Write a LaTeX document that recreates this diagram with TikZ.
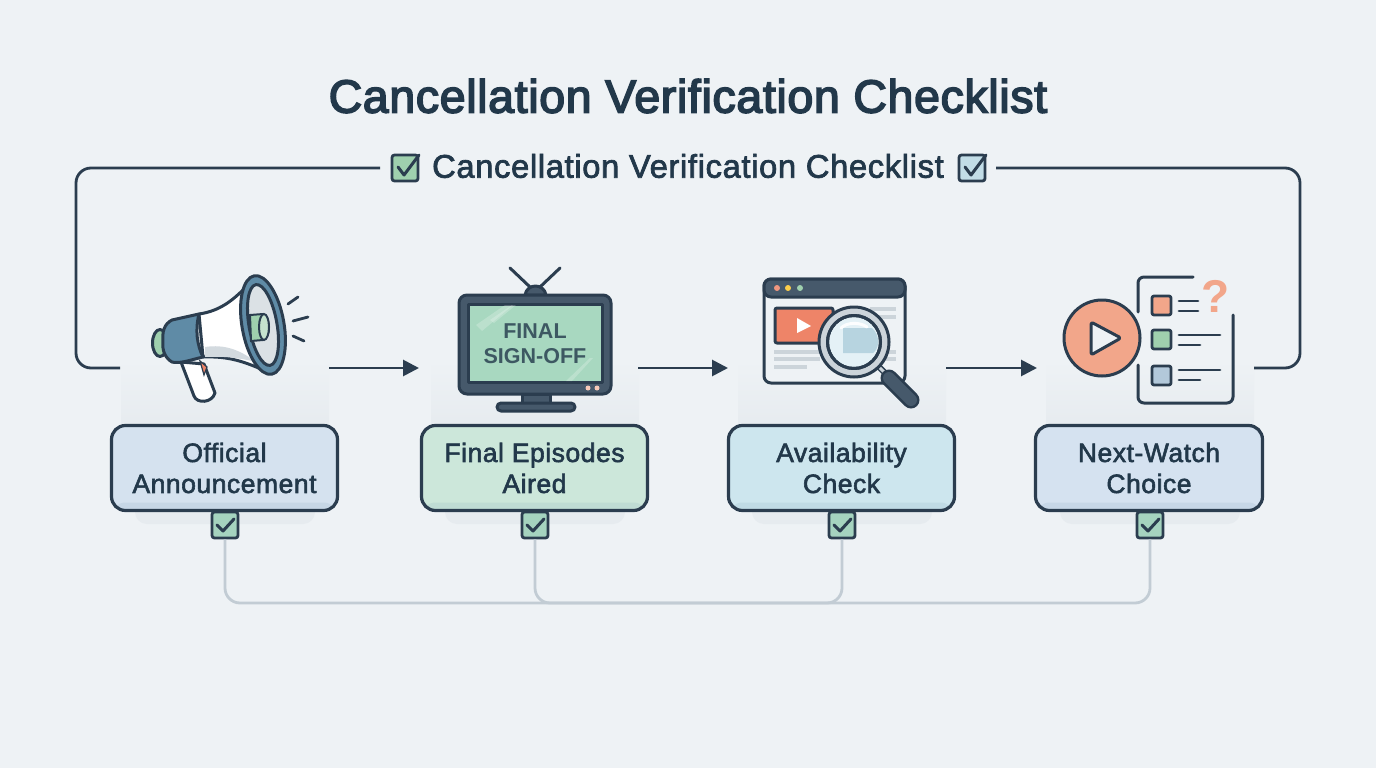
\documentclass[tikz,border=0pt]{standalone}
\usepackage{fontspec}
\usetikzlibrary{arrows.meta,shapes.geometric,calc}
\setmainfont{Liberation Sans}
\newfontfamily\medfont[FakeBold=2.2,LetterSpace=2]{Liberation Sans}
\newfontfamily\headfont[FakeBold=3.4,LetterSpace=1.4]{Liberation Sans}
\newfontfamily\boldfont{Liberation Sans Bold}
\definecolor{ink}{HTML}{2B3D4F}
\definecolor{textink}{HTML}{22384A}
\definecolor{page}{HTML}{EEF2F5}
\definecolor{halo}{HTML}{E6EBEF}
\definecolor{bus}{HTML}{C2CCD4}
\definecolor{steel}{HTML}{5F8BA6}
\definecolor{mint}{HTML}{A5D3BF}
\definecolor{screen}{HTML}{A8D8C0}
\definecolor{leaf}{HTML}{9FD0AE}
\definecolor{coral}{HTML}{EE8468}
\definecolor{peach}{HTML}{F2A68A}
\definecolor{slate}{HTML}{46596B}
\definecolor{rule}{HTML}{CCD4DA}
\definecolor{fillA}{HTML}{D5E2EF}
\definecolor{fillB}{HTML}{CCE7DA}
\definecolor{fillC}{HTML}{CDE6EE}
\definecolor{fillD}{HTML}{D5E2F0}
\tikzset{
  stagebox/.style={draw=ink,line width=3.2pt,rounded corners=14pt,minimum width=226pt,minimum height=85pt,
    align=center,text=textink,font=\medfont\fontsize{26.5}{31}\selectfont,inner sep=0pt,
    path picture={\fill[#1!88!steel] ([yshift=8pt]path picture bounding box.south west) rectangle (path picture bounding box.south east);}},
  tick/.style={draw=ink,line width=2.8pt,rounded corners=2.5pt,fill=mint,minimum width=26pt,minimum height=26pt,inner sep=0pt},
  tickline/.style={draw=ink,line width=3pt,line cap=round,line join=round},
  flow/.style={draw=ink,line width=2.8pt,-{Triangle[length=16pt,width=16pt]}},
  frameline/.style={draw=ink,line width=2.8pt,rounded corners=15pt},
  busline/.style={draw=bus,line width=2.8pt,rounded corners=15pt},
  icon/.style={draw=ink,line width=3pt,line join=round,line cap=round},
  thin/.style={draw=ink,line width=2.8pt,line cap=round},
  gray/.style={draw=rule,line width=3.5pt},
}
\begin{document}
\begin{tikzpicture}[x=1pt,y=-1pt]
\useasboundingbox (0,0) rectangle (1376,768);
\fill[page] (0,0) rectangle (1376,768);

% soft panels behind each stage
\foreach \cx in {225,535,842,1150}{
  \shade[top color=page,bottom color=halo] (\cx-104,360) rectangle (\cx+104,430);
  \fill[halo,rounded corners=12pt] (\cx-90,490) rectangle (\cx+90,524);
}

% titles
\node[text=textink,font=\headfont\fontsize{46.5}{50}\selectfont] (title) at (688,96) {Cancellation Verification Checklist};
\node[text=textink,font=\medfont\fontsize{32.7}{36}\selectfont] (subtitle) at (688,166) {Cancellation Verification Checklist};

% check boxes beside the subtitle
\node[tick,fill=leaf] (headL) at (405,168) {};
\draw[tickline] (398,167) -- (404,175) -- (419,155);
\node[tick,fill=fillC!90!steel] (headR) at (972,168) {};
\draw[tickline] (965,167) -- (971,175) -- (986,155);

% outer frame
\coordinate (frameLin) at (120,368);
\coordinate (frameLa) at (76,368);
\coordinate (frameLb) at (76,168);
\coordinate (frameLout) at (380,168);
\coordinate (frameRin) at (996,168);
\coordinate (frameRa) at (1300,168);
\coordinate (frameRb) at (1300,368);
\coordinate (frameRout) at (1254,368);
\draw[frameline] (frameLin) -- (frameLa) -- (frameLb) -- (frameLout);
\draw[frameline] (frameRin) -- (frameRa) -- (frameRb) -- (frameRout);

% check tabs and stage boxes
\node[tick] (c1) at (225,525) {};
\node[tick] (c2) at (535,525) {};
\node[tick] (c3) at (842,525) {};
\node[tick] (c4) at (1150,525) {};
\foreach \cx in {225,535,842,1150}{
  \draw[tickline] (\cx-8,525) -- (\cx-2,531) -- (\cx+9,519);
}
\node[stagebox=fillA,fill=fillA] (s1) at (224.5,468) {Official\\Announcement};
\node[stagebox=fillB,fill=fillB] (s2) at (534.5,468) {Final Episodes\\Aired};
\node[stagebox=fillC,fill=fillC] (s3) at (841.5,468) {Availability\\Check};
\node[stagebox=fillD,fill=fillD,minimum width=227pt] (s4) at (1149,468) {Next-Watch\\Choice};

% lower collector
\coordinate (b1) at (225,603);
\coordinate (b2) at (535,603);
\coordinate (b3) at (842,603);
\coordinate (b4) at (1150,603);
\draw[busline] (c1.south) -- (b1) -- (b4) -- (c4.south);
\draw[busline] (c2.south) -- (b2) -- (b3) -- (c3.south);

% flow arrows
\coordinate (o1) at (329,368); \coordinate (i2) at (419,368);
\coordinate (o2) at (638,368); \coordinate (i3) at (728,368);
\coordinate (o3) at (946,368); \coordinate (i4) at (1037,368);
\draw[flow] (o1) -- (i2);
\draw[flow] (o2) -- (i3);
\draw[flow] (o3) -- (i4);

% megaphone
\draw[icon,fill=white] (181,362) -- (194,396) .. controls (197,404) and (212,403) .. (215,393) -- (204,364) -- cycle;
\fill[coral,draw=ink,line width=1.2pt] (200,361) -- (207,367) -- (204,375) -- cycle;
\draw[icon,fill=leaf] (160,343) ellipse [x radius=7.5pt,y radius=13.5pt];
\draw[icon,fill=white] (199,314) .. controls (220,311) and (233,300) .. (245,288) -- (268,372)
  .. controls (245,362) and (230,356) .. (203,357) -- cycle;
\fill[halo!90!ink] (205,347) .. controls (225,344) and (240,350) .. (256,362) .. controls (240,358) and (225,356) .. (205,357) -- cycle;
\draw[icon,fill=steel] (172,320) -- (199,314) .. controls (195,330) and (197,345) .. (203,357)
  .. controls (190,360) and (180,364) .. (172,362) .. controls (165,358) and (162,350) .. (163,342)
  .. controls (162,332) and (164,324) .. (172,320) -- cycle;
\draw[icon,fill=steel] (263,325) [rotate around={10:(263,325)}] ellipse [x radius=21pt,y radius=50pt];
\draw[icon,fill=rule!70!white] (263,325) [rotate around={10:(263,325)}] ellipse [x radius=14pt,y radius=41pt];
\draw[draw=ink,line width=2pt,fill=leaf] (250,315) -- (263,314) .. controls (270,318) and (272,336) .. (263,340) -- (251,341) -- cycle;
\draw[draw=ink,line width=2pt,fill=leaf!60!white] (264,327) ellipse [x radius=5pt,y radius=13pt];
\draw[thin] (288,304) -- (298,297);
\draw[thin] (293,321) -- (308,317);
\draw[thin] (293,336) -- (304,341);

% television
\draw[thin,line width=3pt] (510,268) -- (530,287);
\draw[thin,line width=3pt] (560,268) -- (540,287);
\draw[icon,fill=slate] (525,295) .. controls (527,283) and (544,283) .. (546,295) -- cycle;
\draw[icon,fill=slate] (522,394) rectangle (550,404);
\draw[icon,fill=slate,rounded corners=4pt] (497,403) rectangle (575,411);
\draw[icon,fill=slate,rounded corners=8pt] (459,295) rectangle (611,394);
\draw[icon,fill=screen] (468,304) rectangle (602,382);
\fill[white,opacity=.22] (476,325) -- (505,305) -- (513,305) -- (482,331) -- cycle;
\fill[white,opacity=.22] (490,320) -- (512,305) -- (516,305) -- (494,323) -- cycle;
\fill[white,opacity=.22] (566,381) -- (590,358) -- (593,358) -- (572,381) -- cycle;
\node[text=textink!80!screen,font=\boldfont\fontsize{21.5}{25}\selectfont,align=center] (screenText) at (535,344) {FINAL\\SIGN-OFF};
\fill[peach!60!white] (588,388) circle (2.5pt) (597,388) circle (2.5pt);

% browser and magnifier
\draw[icon,fill=page,rounded corners=7pt] (764,279) rectangle (905,383);
\draw[icon,fill=slate,rounded corners=7pt] (764,297) -- (764,279) -- (905,279) -- (905,297) -- cycle;
\fill[coral!85!white] (777,288) circle (3pt);
\fill[yellow!50!orange!70!white] (788,288) circle (3pt);
\fill[leaf] (800,288) circle (3pt);
\draw[icon,fill=coral,rounded corners=2pt] (775,308) rectangle (833,343);
\fill[white] (797,318) -- (811,326) -- (797,333) -- cycle;
\draw[gray] (774,352) -- (820,352) (774,359) -- (820,359) (774,367) -- (807,367);
\draw[gray] (870,309) -- (896,309) (870,317) -- (896,317) (844,359) -- (896,359) (885,352) -- (896,352);
\draw[draw=ink,line width=6pt,line cap=round] (879,367) -- (889,377);
\draw[draw=rule,line width=3pt,line cap=round] (879,367) -- (889,377);
\draw[draw=ink,line width=17pt,line cap=round] (889,378) -- (911,400);
\draw[draw=slate,line width=12pt,line cap=round] (889,378) -- (911,400);
\draw[icon,fill=rule] (854,342) circle (35pt);
\draw[icon,fill=fillC!55!white] (854,342) circle (26.5pt);
\fill[fillC!80!steel] (843,328) -- (872,328) .. controls (880,335) and (880,348) .. (873,353) -- (843,353) -- cycle;
\draw[white,line width=3pt,line cap=round,opacity=.9] (841,328) .. controls (847,322) and (860,322) .. (867,327);
\draw[icon,line width=3pt] (854,342) circle (26.5pt);

% next-watch sheet
\draw[thin,line width=3pt,rounded corners=6pt] (1138,312) -- (1138,277) -- (1193,277);
\draw[thin,line width=3pt,rounded corners=6pt] (1233,315) -- (1233,403) -- (1138,403) -- (1138,365);
\draw[icon,line width=2.8pt,rounded corners=2pt,fill=peach] (1152,296) rectangle (1171,315);
\draw[icon,line width=2.8pt,rounded corners=2pt,fill=leaf] (1152,330) rectangle (1171,349);
\draw[icon,line width=2.8pt,rounded corners=2pt,fill=fillD!70!steel] (1152,366) rectangle (1171,385);
\draw[thin] (1179,301) -- (1198,301) (1179,311) -- (1198,311);
\draw[thin] (1179,335) -- (1220,335) (1179,345) -- (1200,345);
\draw[thin] (1179,370) -- (1220,370) (1179,380) -- (1200,380);
\node[text=peach,font=\boldfont\fontsize{46}{46}\selectfont,inner sep=0pt] (quest) at (1216,296) {?};
\draw[icon,fill=peach] (1102,338) circle (38pt);
\draw[icon,fill=page,rounded corners=2.5pt] (1091,322) -- (1121,338) -- (1091,355) -- cycle;
\end{tikzpicture}
\end{document}
